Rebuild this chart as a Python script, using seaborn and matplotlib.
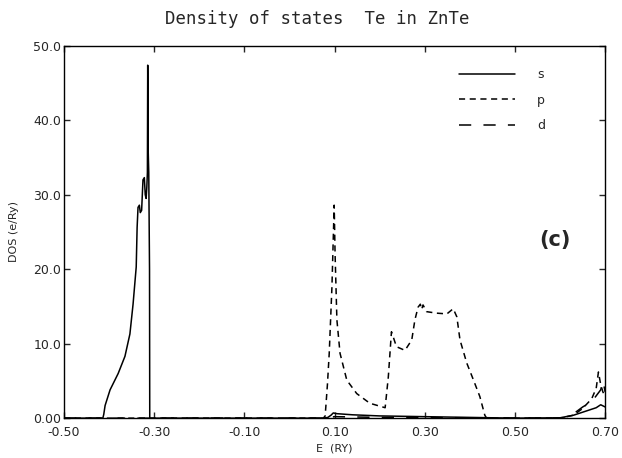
import numpy as np
import pandas as pd
import matplotlib
matplotlib.use("Agg")
import matplotlib.pyplot as plt
from matplotlib.lines import Line2D
from matplotlib.ticker import FixedLocator, FixedFormatter
import seaborn as sns

# ---- data (E in Ry, DOS in e/Ry) ----
s_E = [-0.50, -0.414, -0.412, -0.409, -0.398, -0.380, -0.365, -0.354, -0.347,
       -0.340, -0.338, -0.336, -0.333, -0.331, -0.328, -0.325, -0.322, -0.320,
       -0.318, -0.3165, -0.3152, -0.3145, -0.3135, -0.3122, -0.3105, -0.3100,
       0.075, 0.085, 0.092, 0.097, 0.105, 0.14, 0.20, 0.30, 0.40, 0.50, 0.60,
       0.63, 0.65, 0.66, 0.67, 0.68, 0.69, 0.70]
s_dos = [0.0, 0.0, 0.5, 1.7, 3.8, 6.0, 8.3, 11.3, 15.3,
         20.3, 25.6, 28.3, 28.6, 27.6, 27.9, 32.0, 32.3, 30.0,
         29.5, 31.0, 33.0, 47.4, 36.0, 33.0, 20.0, 0.0,
         0.0, 0.1, 0.4, 0.7, 0.6, 0.45, 0.3, 0.2, 0.1, 0.0, 0.05,
         0.4, 0.8, 1.0, 1.2, 1.4, 1.8, 1.5]

p_E = [-0.50, 0.075, 0.079, 0.084, 0.088, 0.094, 0.099, 0.101, 0.105, 0.112,
       0.127, 0.149, 0.178, 0.212, 0.219, 0.226, 0.230, 0.237, 0.256, 0.271,
       0.278, 0.285, 0.290, 0.293, 0.296, 0.304, 0.326, 0.349, 0.363, 0.371,
       0.378, 0.393, 0.408, 0.422, 0.433, 0.437, 0.60, 0.63, 0.65, 0.67,
       0.68, 0.685, 0.69, 0.695, 0.70]
p_dos = [0.0, 0.0, 0.3, 4.5, 8.7, 17.6, 28.6, 22.0, 13.2, 8.7,
         5.1, 3.3, 2.0, 1.4, 5.5, 11.6, 10.9, 9.6, 9.1, 10.5,
         13.2, 14.9, 15.3, 14.6, 15.2, 14.3, 14.1, 14.0, 14.7, 13.6,
         10.5, 7.4, 5.1, 2.9, 0.4, 0.0, 0.0, 0.4, 1.3, 2.6,
         4.0, 6.2, 4.5, 3.5, 3.0]

d_E = [-0.50, 0.075, 0.10, 0.20, 0.40, 0.61, 0.63, 0.65, 0.67, 0.68, 0.69, 0.695, 0.70]
d_dos = [0.0, 0.0, 0.2, 0.1, 0.05, 0.0, 0.6, 1.5, 2.2, 3.0, 3.8, 5.0, 3.5]

x_ticks = [-0.50, -0.30, -0.10, 0.10, 0.30, 0.50, 0.70]
x_labels = ["-0.50", "-0.30", "-0.10", "0.10", "0.30", "0.50", "0.70"]
y_ticks = [0, 10, 20, 30, 40, 50]
y_labels = ["0.00", "10.0", "20.0", "30.0", "40.0", "50.0"]

series = [("s", s_E, s_dos, (None, None)),
          ("p", p_E, p_dos, (4, 3)),
          ("d", d_E, d_dos, (8, 8))]

sns.set_style("ticks")
plt.rcParams["font.family"] = ["DejaVu Sans"]

fig = plt.figure(figsize=(6.22, 4.58), dpi=100)
ax = fig.add_axes([0.103, 0.087, 0.870, 0.813])

handles = []
for name, e, dos, dash in series:
    df = pd.DataFrame({"E": e, "DOS": dos})
    sns.lineplot(data=df, x="E", y="DOS", ax=ax, color="black", lw=1.1,
                 sort=False, estimator=None)
    line = ax.lines[-1]
    if dash[0] is not None:
        line.set_dashes(dash)
    h = Line2D([], [], color="black", lw=1.1)
    if dash[0] is not None:
        h.set_dashes(dash)
    handles.append(h)

ax.set_xlim(-0.50, 0.70)
ax.set_ylim(0, 50)
ax.xaxis.set_major_locator(FixedLocator(x_ticks))
ax.xaxis.set_major_formatter(FixedFormatter(x_labels))
ax.yaxis.set_major_locator(FixedLocator(y_ticks))
ax.yaxis.set_major_formatter(FixedFormatter(y_labels))
ax.tick_params(direction="in", length=4, width=1, top=True, right=True,
               labelsize=9, pad=2)
ax.tick_params(axis="x", pad=6)
for sp in ax.spines.values():
    sp.set_linewidth(1.0)
    sp.set_color("black")

ax.set_xlabel("E  (RY)", fontsize=8, labelpad=3)
ax.set_ylabel("DOS (e/Ry)", fontsize=8, labelpad=10)
fig.suptitle("Density of states  Te in ZnTe", x=0.51, y=0.978,
             fontsize=12.5, family="DejaVu Sans Mono")

ax.text(0.589, 23.9, "(c)", fontsize=15, fontweight="bold",
        ha="center", va="center")

ax.legend(handles, ["s", "p", "d"], loc="upper right", frameon=False,
          bbox_to_anchor=(0.91, 0.97), handlelength=4.5, handletextpad=1.8,
          labelspacing=1.0, fontsize=9)

fig.savefig("out.png", dpi=100)
